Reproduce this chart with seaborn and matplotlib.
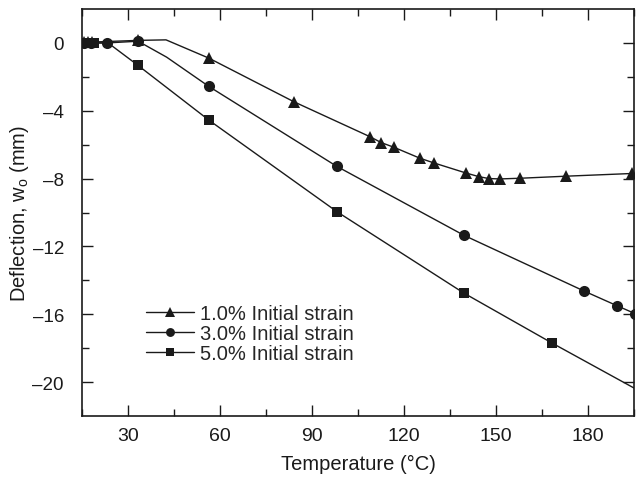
import numpy as np
import pandas as pd
import matplotlib
matplotlib.use("Agg")
import matplotlib.pyplot as plt
from matplotlib.lines import Line2D
import seaborn as sns

# Temperature (°C) and mid-span deflection w_o (mm) for each initial strain.
# t_*/w_* hold every vertex of the drawn curve, m_* flags the measured points.
t_1 = [15.5, 16.8, 18.3, 33.3, 42.4, 56.4, 84.1, 108.9, 112.6, 116.8, 125.2, 129.8,
       140.2, 144.3, 147.7, 151.4, 157.9, 172.7, 194.3]
w_1 = [0.05, 0.05, 0.05, 0.15, 0.18, -0.9, -3.47, -5.53, -5.88, -6.16, -6.8, -7.08,
       -7.67, -7.88, -8.0, -8.02, -7.98, -7.86, -7.7]
m_1 = [1, 1, 1, 1, 0, 1, 1, 1, 1, 1, 1, 1, 1, 1, 1, 1, 1, 1, 1]

t_3 = [15.5, 18.0, 23.2, 33.3, 42.6, 56.4, 98.0, 139.6, 178.7, 189.5, 195.3]
w_3 = [0.0, 0.0, 0.0, 0.1, -0.84, -2.57, -7.27, -11.35, -14.63, -15.5, -15.96]
m_3 = [1, 1, 1, 1, 0, 1, 1, 1, 1, 1, 1]

t_5 = [15.5, 17.2, 19.0, 23.5, 33.3, 56.5, 98.2, 139.6, 168.3, 195.0]
w_5 = [0.0, 0.0, 0.0, 0.0, -1.33, -4.57, -9.96, -14.76, -17.7, -20.35]
m_5 = [1, 1, 1, 0, 1, 1, 1, 1, 1, 0]

labels = ["1.0% Initial strain", "3.0% Initial strain", "5.0% Initial strain"]
markers = ["^", "o", "s"]
msizes = [9, 8, 7]

x_ticks = [30, 60, 90, 120, 150, 180]
y_ticks = [0, -4, -8, -12, -16, -20]

sns.set_theme(style="ticks")
plt.rcParams["font.family"] = ["Liberation Sans", "DejaVu Sans"]
plt.rcParams["mathtext.fontset"] = "custom"
plt.rcParams["mathtext.rm"] = "Liberation Sans"
plt.rcParams["mathtext.it"] = "Liberation Sans:italic"

ink = "#1a1a1a"
fig = plt.figure(figsize=(6.37, 4.81), dpi=100)
ax = fig.add_axes([82 / 637, 1 - 417 / 481, (634 - 82) / 637, (417 - 10) / 481])

frames = []
for lab, t, w, m in zip(labels, [t_1, t_3, t_5], [w_1, w_3, w_5], [m_1, m_3, m_5]):
    frames.append(pd.DataFrame({"T": t, "w": w, "mark": m, "series": lab}))
df = pd.concat(frames, ignore_index=True)

for lab, mk, ms in zip(labels, markers, msizes):
    sub = df[df["series"] == lab]
    sns.lineplot(data=sub, x="T", y="w", ax=ax, color=ink, linewidth=1.0,
                 sort=False, estimator=None, legend=False)
    pts = sub[sub["mark"] == 1]
    ax.plot(pts["T"], pts["w"], linestyle="none", marker=mk, markersize=ms,
            color=ink, markeredgewidth=0)

ax.set_xlim(15, 195)
ax.set_ylim(-22, 2)
ax.set_xticks(x_ticks)
ax.set_yticks(y_ticks)
ax.set_yticklabels([f"{v}".replace("-", "\u2013") for v in y_ticks], fontsize=13.5)
ax.set_xticks(np.arange(15, 196, 30), minor=True)
ax.set_yticks(np.arange(-18, 0, 4), minor=True)
ax.tick_params(which="both", direction="in", top=True, right=True,
               color=ink, width=1.0, labelcolor=ink)
ax.tick_params(axis="x", labelsize=14)
ax.tick_params(which="major", length=8)
ax.tick_params(which="minor", length=5)
ax.tick_params(axis="y", which="both", pad=13)
ax.tick_params(axis="x", which="both", pad=8)
for s in ax.spines.values():
    s.set_visible(True)
    s.set_color(ink)
    s.set_linewidth(1.2)

ax.set_xlabel("Temperature (\u00b0C)", fontsize=14.5, color=ink)
ax.set_ylabel(r"Deflection, w$_\mathrm{o}$ (mm)", fontsize=14.5, color=ink)
ax.xaxis.set_label_coords(0.5, (417 - 464) / 407, transform=ax.transAxes)
ax.yaxis.set_label_coords((20 - 82) / 552, 0.5, transform=ax.transAxes)
ax.xaxis.label.set_va("center")
ax.yaxis.label.set_va("center")

handles = [Line2D([], [], color=ink, linewidth=1.0, marker=mk, markersize=ms * 0.8,
                  markeredgewidth=0) for mk, ms in zip(markers, msizes)]
ax.legend(handles, labels, loc="upper left", frameon=False, fontsize=14.5,
          bbox_to_anchor=(146 / 637, 1 - 305 / 481), bbox_transform=fig.transFigure,
          borderaxespad=0, borderpad=0, handlelength=2.4, handletextpad=0.3,
          labelspacing=0.05, numpoints=1)

fig.savefig("out.png", dpi=100)
